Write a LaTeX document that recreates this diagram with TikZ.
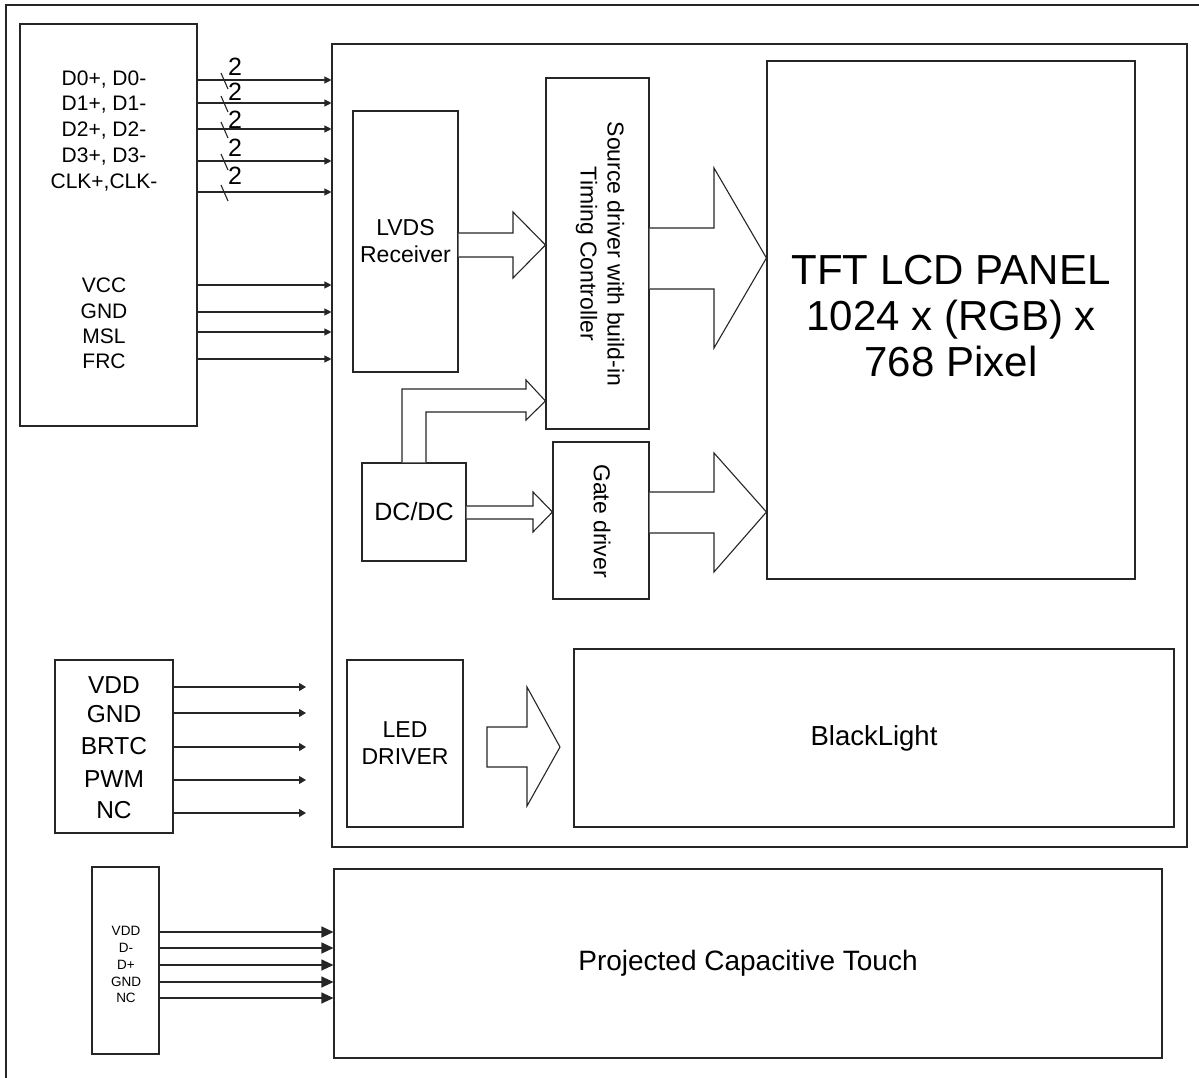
\documentclass[tikz,border=0pt]{standalone}
\usepackage{fontspec}
\setmainfont{Liberation Sans}
\usetikzlibrary{arrows.meta}
\begin{document}
\begin{tikzpicture}[x=1pt,y=-1pt,
  ln/.style={draw=black!85, line width=1.1pt},
  box/.style={ln, rectangle, inner sep=0pt, align=center, anchor=center},
  lbl/.style={inner sep=0pt, anchor=center, align=center},
  sig/.style={ln, -{Triangle[length=7pt,width=7pt]}},
  sigb/.style={ln, -{Triangle[length=7pt,width=8pt]}},
  tsig/.style={ln, -{Triangle[length=12pt,width=11pt]}},
  barrow/.style={ln, line join=miter, fill=white},
  fa/.style={font=\fontsize{21}{25}\selectfont},
  fb/.style={font=\fontsize{23}{27}\selectfont},
  fd/.style={font=\fontsize{25}{29}\selectfont},
  fc/.style={font=\fontsize{28}{32}\selectfont},
  fs/.style={font=\fontsize{13.5}{16}\selectfont},
  two/.style={lbl, font=\fontsize{25}{28}\selectfont},
]
\useasboundingbox (0,0) rectangle (1199,1078);
% outer frame (only top and left edges visible)
\draw[ln] (6,1078) -- (6,5) -- (1199,5);

% boxes
\node[box, minimum width=177pt, minimum height=402pt] (conn1) at (108.5,225) {};
\node[box, minimum width=855pt, minimum height=803pt] (main) at (759.5,445.5) {};
\node[box, minimum width=105pt, minimum height=261pt, fb] (lvds) at (405.5,241.5) {LVDS\\Receiver};
\node[box, minimum width=103pt, minimum height=351pt] (src) at (597.5,253.5) {};
\node[lbl, rotate=-90, fb] (srct) at (600,254) {Source driver with build-in\\Timing Controller};
\node[box, minimum width=368pt, minimum height=518pt] (tft) at (951,320) {};
\node[lbl, font=\fontsize{42}{46}\selectfont] (tftt) at (951,316) {TFT LCD PANEL\\1024 x (RGB) x\\768 Pixel};
\node[box, minimum width=104pt, minimum height=98pt, fd] (dcdc) at (414,512) {DC/DC};
\node[box, minimum width=96pt, minimum height=157pt] (gate) at (601,520.5) {};
\node[lbl, rotate=-90, fb] (gatet) at (602,521) {Gate driver};
\node[box, minimum width=118pt, minimum height=173pt] (conn2) at (114,746.5) {};
\node[box, minimum width=116pt, minimum height=167pt, fb] (led) at (405,743.5) {LED\\DRIVER};
\node[box, minimum width=600pt, minimum height=178pt, font=\fontsize{27.5}{31}\selectfont] (bl) at (874,738) {BlackLight};
\node[box, minimum width=67pt, minimum height=187pt] (conn3) at (125.5,960.5) {};
\node[box, minimum width=828pt, minimum height=189pt, fc] (touch) at (748,963.5) {Projected Capacitive Touch};

% connector 1 labels
\node[lbl, fa] (l1) at (104,80) {D0+, D0-};
\node[lbl, fa] (l2) at (104,105) {D1+, D1-};
\node[lbl, fa] (l3) at (104,131) {D2+, D2-};
\node[lbl, fa] (l4) at (104,157) {D3+, D3-};
\node[lbl, fa] (l5) at (104,183) {CLK+,CLK-};
\node[lbl, fa] (l6) at (104,285) {VCC};
\node[lbl, fa] (l7) at (104,311) {GND};
\node[lbl, fa] (l8) at (104,336) {MSL};
\node[lbl, fa] (l9) at (104,361) {FRC};

% connector 1 signals
\foreach \y in {80,103,129,161,192} {
  \draw[sig] (conn1.east |- 0,\y) -- (main.west |- 0,\y);
}
\foreach \y/\t in {80/67,103/92,129/120,161/148,192/176} {
  \draw[ln] (221,\y-7) -- (228,\y+9);
  \node[two] at (235,\t) {2};
}
\foreach \y in {285,312,332,359} {
  \draw[sig] (conn1.east |- 0,\y) -- (main.west |- 0,\y);
}

% connector 2
\node[lbl, font=\fontsize{24.5}{28}\selectfont] (m1) at (114,685) {VDD};
\node[lbl, font=\fontsize{24.5}{28}\selectfont] (m2) at (114,714) {GND};
\node[lbl, font=\fontsize{24.5}{28}\selectfont] (m3) at (114,746) {BRTC};
\node[lbl, font=\fontsize{24.5}{28}\selectfont] (m4) at (114,779) {PWM};
\node[lbl, font=\fontsize{24.5}{28}\selectfont] (m5) at (114,810) {NC};
\coordinate (c2end) at (306,0);
\foreach \y in {687,713,747,780,813} {
  \draw[sigb] (conn2.east |- 0,\y) -- (c2end |- 0,\y);
}

% connector 3 (touch)
\node[lbl, fs] (t1) at (126,931) {VDD};
\node[lbl, fs] (t2) at (126,948) {D-};
\node[lbl, fs] (t3) at (126,965) {D+};
\node[lbl, fs] (t4) at (126,982) {GND};
\node[lbl, fs] (t5) at (126,998) {NC};
\foreach \y in {932,948,965,982,998} {
  \draw[tsig] (conn3.east |- 0,\y) -- (touch.west |- 0,\y);
}

% block arrows
\draw[barrow] (lvds.east |- 0,233) -- (513,233) -- (513,212) -- (src.west |- 0,245)
  -- (513,278) -- (513,257) -- (lvds.east |- 0,257);
\draw[barrow] (src.east |- 0,228) -- (714,228) -- (714,168) -- (tft.west |- 0,258)
  -- (714,348) -- (714,289) -- (src.east |- 0,289);
\draw[barrow] (dcdc.north -| 402,0) -- (402,389) -- (526,389) -- (526,380) -- (src.west |- 0,401)
  -- (526,420) -- (526,412) -- (426,412) -- (dcdc.north -| 426,0);
\draw[barrow] (dcdc.east |- 0,506) -- (533,506) -- (533,492) -- (gate.west |- 0,512)
  -- (533,532) -- (533,519) -- (dcdc.east |- 0,519);
\draw[barrow] (gate.east |- 0,492) -- (714,492) -- (714,453) -- (tft.west |- 0,512)
  -- (714,572) -- (714,533) -- (gate.east |- 0,533);
\draw[barrow] (487,727) -- (527,727) -- (527,687) -- (560,747) -- (527,806) -- (527,767) -- (487,767) -- cycle;
\end{tikzpicture}
\end{document}
